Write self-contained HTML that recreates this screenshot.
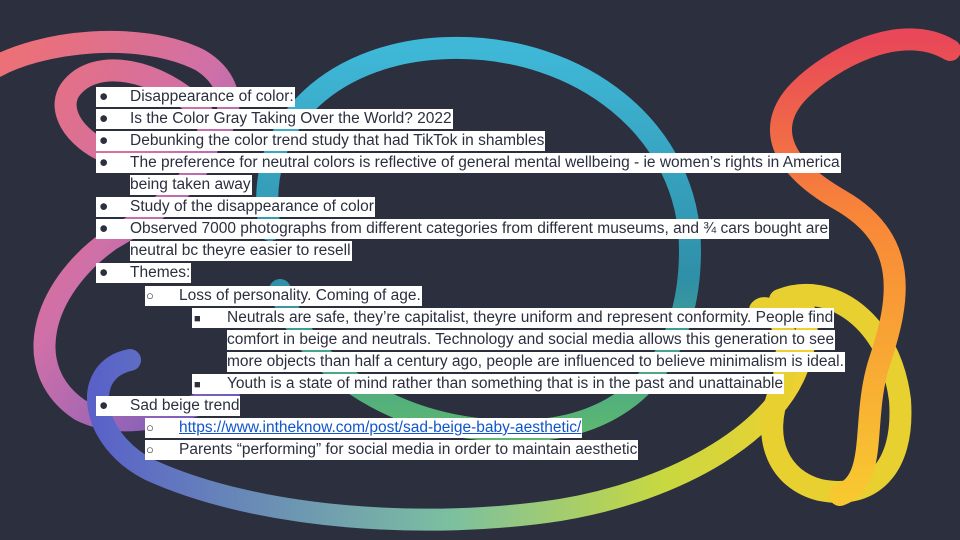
<!DOCTYPE html>
<html><head><meta charset="utf-8"><style>
html,body{margin:0;padding:0}
body{width:960px;height:540px;background:#2b2f3e;position:relative;overflow:hidden;font-family:"Liberation Sans",sans-serif}
svg{position:absolute;left:0;top:0}
.ln{position:absolute;height:20px;line-height:20px;font-size:15.5px;color:#2b2f3e;background:#fff;white-space:nowrap;padding-right:1px}
.b{display:inline-block;width:34px;padding-left:3px;box-sizing:border-box}
.b2{display:inline-block;width:34px;padding-left:1px;box-sizing:border-box;font-size:13px}
.b3{display:inline-block;width:35px;padding-left:2px;box-sizing:border-box;font-size:11px}
a{color:#1155cc;text-decoration:underline}
</style></head><body>
<svg width="960" height="540">
<defs>
<linearGradient id="g1" x1="0" y1="0" x2="1" y2="1"><stop offset="0" stop-color="#f07070"/><stop offset="0.5" stop-color="#d070a8"/><stop offset="1" stop-color="#6a5bc0"/></linearGradient>
<linearGradient id="g2" x1="0" y1="0" x2="0" y2="1"><stop offset="0" stop-color="#3fb8d8"/><stop offset="0.6" stop-color="#2f8fa8"/><stop offset="1" stop-color="#5cb870"/></linearGradient>
<linearGradient id="g3" x1="0" y1="0" x2="1" y2="0"><stop offset="0" stop-color="#5a62c8"/><stop offset="0.5" stop-color="#7cc0a0"/><stop offset="0.8" stop-color="#c8d840"/><stop offset="1" stop-color="#f0d030"/></linearGradient>
<linearGradient id="g4" x1="0" y1="0" x2="0" y2="1"><stop offset="0" stop-color="#e84858"/><stop offset="0.4" stop-color="#f88838"/><stop offset="1" stop-color="#f8c830"/></linearGradient>
</defs>
<g fill="none" stroke-width="22" stroke-linecap="round">
<path d="M-10 70 C40 40 140 30 200 60 C250 90 230 150 170 160 C100 170 50 120 70 90 C95 55 160 70 200 110 C230 150 180 200 110 240 C40 290 20 370 80 410 C120 430 170 420 230 390" stroke="url(#g1)"/>
<path d="M270 230 C250 120 340 50 450 48 C580 45 690 130 690 250 C690 350 640 420 540 430 C420 440 310 380 280 290" stroke="url(#g2)"/>
<path d="M130 360 C80 370 90 440 150 470 C260 520 430 530 560 510 C680 490 780 430 800 360 C820 300 790 290 780 320" stroke="url(#g3)"/>
<path d="M780 300 C830 280 890 320 900 400 C905 470 870 500 820 490 C780 480 760 440 780 390 C800 330 770 300 760 310" stroke="#e8d030"/>
<path d="M950 50 C900 20 830 60 800 90 C770 120 770 160 840 200 C910 240 900 300 880 360 C860 420 880 480 840 495" stroke="url(#g4)"/>
</g>
</svg>
<div class="ln" style="left:96px;top:87px"><span class="b">●</span>Disappearance of color:</div>
<div class="ln" style="left:96px;top:109px"><span class="b">●</span>Is the Color Gray Taking Over the World? 2022</div>
<div class="ln" style="left:96px;top:131px"><span class="b">●</span>Debunking the color trend study that had TikTok in shambles</div>
<div class="ln" style="left:96px;top:153px"><span class="b">●</span>The preference for neutral colors is reflective of general mental wellbeing - ie women’s rights in America</div>
<div class="ln" style="left:130px;top:175px">being taken away</div>
<div class="ln" style="left:96px;top:197px"><span class="b">●</span>Study of the disappearance of color</div>
<div class="ln" style="left:96px;top:219px"><span class="b">●</span>Observed 7000 photographs from different categories from different museums, and ¾ cars bought are</div>
<div class="ln" style="left:130px;top:241px">neutral bc theyre easier to resell</div>
<div class="ln" style="left:96px;top:263px"><span class="b">●</span>Themes:</div>
<div class="ln" style="left:145px;top:286px"><span class="b2">○</span>Loss of personality. Coming of age.</div>
<div class="ln" style="left:192px;top:308px"><span class="b3">■</span>Neutrals are safe, they’re capitalist, theyre uniform and represent conformity. People find</div>
<div class="ln" style="left:227px;top:330px">comfort in beige and neutrals. Technology and social media allows this generation to see</div>
<div class="ln" style="left:227px;top:352px">more objects than half a century ago, people are influenced to believe minimalism is ideal.</div>
<div class="ln" style="left:192px;top:374px"><span class="b3">■</span>Youth is a state of mind rather than something that is in the past and unattainable</div>
<div class="ln" style="left:96px;top:396px"><span class="b">●</span>Sad beige trend</div>
<div class="ln" style="left:145px;top:418px"><span class="b2">○</span><a href="#">https://www.intheknow.com/post/sad-beige-baby-aesthetic/</a></div>
<div class="ln" style="left:145px;top:440px"><span class="b2">○</span>Parents “performing” for social media in order to maintain aesthetic</div>
</body></html>
